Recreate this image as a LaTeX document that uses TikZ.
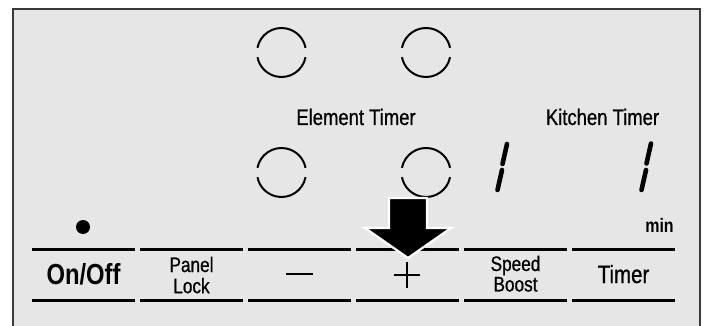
\documentclass[tikz,border=0pt]{standalone}
\usepackage{fontspec}
\setmainfont{Liberation Sans}[FakeStretch=0.82]
\newfontfamily\medfont{Liberation Sans}[FakeStretch=0.82, FakeBold=0.7]
\definecolor{panelbg}{HTML}{E6E6E6}
\definecolor{framec}{HTML}{3A3A3A}
\begin{document}
\begin{tikzpicture}[x=1pt,y=-1pt,
  keyline/.style={line width=3pt},
  ring/.style={line width=2pt},
  digitseg/.style={line width=4.6pt, line cap=round},
  lbl/.style={inner sep=0pt, anchor=base},
  symbox/.style={inner sep=0pt, minimum width=26pt, minimum height=25pt},
  symline/.style={line width=1.4pt}]
\useasboundingbox (0,0) rectangle (704,326);
\fill[white] (0,0) rectangle (704,326);
\draw[line width=1.3pt, draw=framec, fill=panelbg] (13,9) rectangle (700,345);

% burner rings with gaps
\foreach \n/\x/\y in {ra/281.5/52.5, rb/426/52.5, rc/281.5/172.5, rd/426/172.5}{
  \coordinate (\n) at (\x,\y);
  \draw[ring] (\n) ++(11:24.5) arc[start angle=11, end angle=169, radius=24.5];
  \draw[ring] (\n) ++(191:24.5) arc[start angle=191, end angle=349, radius=24.5];
}

% headings
\node[lbl, font=\medfont\fontsize{22.5}{24}\selectfont] (et) at (356,125) {Element Timer};
\node[lbl, font=\medfont\fontsize{22.5}{24}\selectfont] (kt) at (602.5,125) {Kitchen Timer};

% seven-segment digits "1"
\coordinate (d1a) at (507,144); \coordinate (d1b) at (502.5,164);
\coordinate (d1c) at (502,170); \coordinate (d1d) at (497.5,190);
\draw[digitseg] (d1a) -- (d1b);
\draw[digitseg] (d1c) -- (d1d);
\coordinate (d2a) at (651,143.5); \coordinate (d2b) at (646.5,163.5);
\coordinate (d2c) at (646,170); \coordinate (d2d) at (641.5,190);
\draw[digitseg] (d2a) -- (d2b);
\draw[digitseg] (d2c) -- (d2d);

\node[lbl, font=\fontsize{19.5}{20}\bfseries\selectfont] (min) at (659.5,232) {min};

% indicator dot
\fill (83,227) circle[radius=7];

% key lines
\foreach \i in {0,...,5}{
  \pgfmathsetmacro{\xa}{32+108*\i}
  \pgfmathsetmacro{\xb}{135+108*\i}
  \coordinate (t\i a) at (\xa,249); \coordinate (t\i b) at (\xb,249);
  \coordinate (b\i a) at (\xa,300); \coordinate (b\i b) at (\xb,300);
  \draw[keyline] (t\i a) -- (t\i b);
  \draw[keyline] (b\i a) -- (b\i b);
}

% key labels
\node[lbl, font=\fontsize{29}{30}\bfseries\selectfont] (onoff) at (83.5,284) {On/Off};
\node[lbl, font=\medfont\fontsize{21}{20}\selectfont] (lock) at (191.5,272)
  {\begin{tabular}[t]{@{}c@{}}Panel\\Lock\end{tabular}};
\node[symbox] (minus) at (299.5,274) {};
\draw[symline] (minus.west) -- (minus.east);
\node[symbox] (plus) at (407,275) {};
\draw[symline] (plus.west) -- (plus.east);
\draw[symline] (plus.north) -- (plus.south);
\node[lbl, font=\medfont\fontsize{21}{20}\selectfont] (boost) at (515.5,271)
  {\begin{tabular}[t]{@{}c@{}}Speed\\Boost\end{tabular}};
\node[lbl, font=\medfont\fontsize{25}{26}\selectfont] (timer) at (623.5,283) {Timer};

% pointing arrow
\draw[fill=black, draw=white, line width=2.2pt, line join=miter]
  (389,198) -- (427,198) -- (427,228) -- (451,228) -- (408,258)
  -- (365,228) -- (389,228) -- cycle;
\end{tikzpicture}
\end{document}
